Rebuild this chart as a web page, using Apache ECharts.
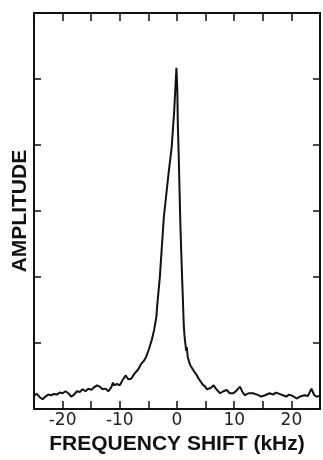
<!DOCTYPE html>
<html>
<head>
<meta charset="utf-8">
<script src="https://cdn.jsdelivr.net/npm/echarts@6/dist/echarts.min.js"></script>
<style>
  html, body { margin: 0; padding: 0; background: #fff; }
  #chart { width: 323px; height: 460px; }
</style>
</head>
<body>
<div id="chart"></div>
<script>
// frequency shift (kHz) and amplitude
const shiftKHz = [
  -25, -24.5, -24, -23.5, -23, -22.5, -22, -21.5, -21, -20.5,
  -20, -19.5, -19, -18.5, -18, -17.5, -17, -16.5, -16, -15.5,
  -15, -14.5, -14, -13.5, -13, -12.5, -12, -11.5, -11.2, -11,
  -10.5, -10, -9.5, -9, -8.5, -8, -7.5, -7.2, -6.8, -6.3,
  -5.8, -5.4, -4.9, -4.4, -4.0, -3.6, -3.45, -3.0, -2.3, -1.5,
  -0.95, -0.5, -0.1, 0.05, 0.15, 0.31, 0.45, 0.6, 0.85, 1.06,
  1.18, 1.3, 1.48, 1.6, 1.7, 1.88, 2.1, 2.34, 2.6, 2.92,
  3.2, 3.49, 3.8, 4.08, 4.5, 4.95, 5.2, 5.52, 5.9, 6.39,
  6.8, 7.2, 7.55, 8.1, 8.7, 9.2, 9.86, 10.4, 11.0, 11.5,
  11.9, 12.5, 13.3, 14.0, 14.7, 15.4, 16.2, 16.8, 17.3, 17.9,
  18.5, 19.1, 19.6, 20.2, 20.9, 21.5, 22.3, 22.9, 23.5, 24.0,
  24.4, 25
];
const amplitude = [
  0.21, 0.23, 0.18, 0.15, 0.19, 0.22, 0.21, 0.23, 0.22, 0.25,
  0.24, 0.27, 0.24, 0.19, 0.22, 0.27, 0.26, 0.30, 0.27, 0.31,
  0.29, 0.33, 0.36, 0.34, 0.30, 0.31, 0.27, 0.33, 0.40, 0.36,
  0.38, 0.36, 0.44, 0.51, 0.45, 0.46, 0.53, 0.56, 0.60, 0.68,
  0.73, 0.79, 0.91, 1.05, 1.20, 1.40, 1.58, 2.0, 2.91, 3.55,
  3.95, 4.5, 5.17, 4.84, 4.3, 3.8, 3.3, 2.76, 2.1, 1.58,
  1.28, 1.12, 0.98, 0.88, 0.94, 0.79, 0.72, 0.66, 0.68, 0.58,
  0.55, 0.51, 0.46, 0.44, 0.37, 0.34, 0.30, 0.29, 0.32, 0.36,
  0.31, 0.27, 0.24, 0.27, 0.29, 0.24, 0.24, 0.28, 0.34, 0.25,
  0.21, 0.24, 0.24, 0.22, 0.19, 0.21, 0.24, 0.22, 0.25, 0.23,
  0.21, 0.19, 0.22, 0.20, 0.16, 0.19, 0.21, 0.20, 0.31, 0.21,
  0.19, 0.20
];

const INK = '#111';
const FONT = '"Liberation Sans", Arial, sans-serif';

const chart = echarts.init(document.getElementById('chart'));

const baseX = {
  type: 'value',
  min: -25,
  max: 25,
  interval: 5,
  axisLine: { show: true, onZero: false, lineStyle: { color: INK, width: 2 } },
  axisTick: { show: true, inside: true, length: 8, lineStyle: { color: INK, width: 1.5 } },
  splitLine: { show: false },
};
const baseY = {
  type: 'value',
  min: 0,
  max: 6,
  interval: 1,
  axisLine: { show: true, onZero: false, lineStyle: { color: INK, width: 2 } },
  axisTick: { show: true, inside: true, length: 7, lineStyle: { color: INK, width: 1.5 } },
  axisLabel: { show: false },
  splitLine: { show: false },
};

chart.setOption({
  animation: false,
  backgroundColor: '#fff',
  grid: { left: 34, right: 2, top: 13, bottom: 44 },
  xAxis: [
    {
      ...baseX,
      position: 'bottom',
      name: 'FREQUENCY SHIFT (kHz)',
      nameLocation: 'middle',
      nameGap: 23,
      nameTextStyle: { color: INK, fontFamily: FONT, fontSize: 21, fontWeight: 'bold' },
      axisLabel: {
        show: true,
        margin: 3,
        color: '#222',
        fontFamily: '"DejaVu Sans", sans-serif',
        fontSize: 17,
        formatter: (v) => (v % 10 === 0 && Math.abs(v) < 25 ? String(v) : ''),
      },
    },
    { ...baseX, position: 'top', axisLabel: { show: false } },
  ],
  yAxis: [
    {
      ...baseY,
      position: 'left',
      name: 'AMPLITUDE',
      nameLocation: 'middle',
      nameRotate: 90,
      nameGap: 3,
      nameTextStyle: { color: INK, fontFamily: FONT, fontSize: 21, fontWeight: 'bold' },
    },
    { ...baseY, position: 'right' },
  ],
  series: [
    {
      type: 'line',
      data: shiftKHz.map((x, i) => [x, amplitude[i]]),
      showSymbol: false,
      lineStyle: { color: INK, width: 2 },
      clip: true,
    },
  ],
});
</script>
</body>
</html>
